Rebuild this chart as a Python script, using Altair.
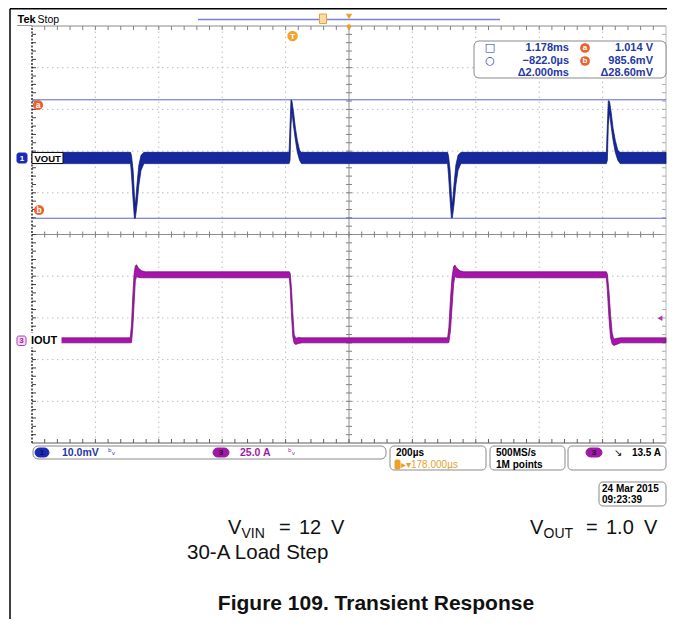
import altair as alt
import pandas as pd

# ---------------- scope settings ----------------
T_LEFT_US = -822.0        # left screen edge (cursor readout -822.0 us)
T_RIGHT_US = 1178.0       # right screen edge (cursor readout 1.178 ms)
T_CENTER_US = 178.0       # horizontal position readout
TIME_DIV_US = 200.0       # 200 us/div
N_HDIV = 10
N_VDIV = 10
VOUT_V_PER_DIV = 0.010    # 10.0 mV/div
VOUT_REF_V = 1.000
VOUT_REF_DIV = 1.83       # screen position of 1.000 V
IOUT_A_PER_DIV = 25.0     # 25.0 A/div
IOUT_ZERO_DIV = -2.55     # screen position of 0 A
CURSOR_A_V = 1.014
CURSOR_B_V = 0.9856
TRIG_LEVEL_A = 13.5

# ---------------- VOUT envelope (time us, upper V, lower V) ----------------
vout_t = [-822, -511, -508, -503, -499, -496, -491, -485, -478, -469,
          -11, -8, -5, -2, 3, 9, 15, 22, 28,
          489, 492, 497, 501, 504, 509, 515, 522, 531,
          990, 993, 996, 1000, 1005, 1011, 1018, 1026, 1033, 1178]
vout_hi = [1.0014, 1.0014, 1.0005, 0.9971, 0.9911, 0.9887, 0.9935, 0.9983, 1.0007, 1.0014,
           1.0014, 1.0079, 1.0140, 1.0137, 1.0111, 1.0072, 1.0043, 1.0019, 1.0014,
           1.0014, 1.0005, 0.9971, 0.9911, 0.9887, 0.9935, 0.9983, 1.0007, 1.0014,
           1.0014, 1.0079, 1.0138, 1.0136, 1.0110, 1.0072, 1.0043, 1.0019, 1.0014, 1.0014]
vout_lo = [0.9987, 0.9987, 0.9959, 0.9899, 0.9856, 0.9856, 0.9887, 0.9935, 0.9971, 0.9987,
           0.9987, 0.9995, 1.0079, 1.0111, 1.0077, 1.0043, 1.0014, 0.9995, 0.9987,
           0.9987, 0.9959, 0.9899, 0.9857, 0.9857, 0.9887, 0.9935, 0.9971, 0.9987,
           0.9987, 0.9995, 1.0079, 1.0110, 1.0076, 1.0043, 1.0014, 0.9995, 0.9987, 0.9987]

# ---------------- IOUT envelope (time us, upper A, lower A) ----------------
iout_t = [-822, -512, -508, -504, -500, -496, -492, -486, -476, -465,
          -10, -7, -3, 1, 5, 10, 18, 30,
          489, 493, 498, 503, 508, 512, 518, 528, 540,
          990, 993, 998, 1003, 1008, 1013, 1022, 1035, 1178]
iout_hi = [1.8, 1.8, 10, 27, 40, 45, 45.6, 43.5, 42, 41.4,
           41.4, 40, 30, 16, 4, 1.5, 2, 1.8,
           1.8, 8, 25, 38, 44.5, 45.5, 43.5, 42, 41.4,
           41.4, 40, 30, 16, 5, 1, 1.5, 1.8, 1.8]
iout_lo = [-1.2, -1.2, -1.0, 8, 22, 36, 38.5, 38, 37.8, 37.8,
           37.8, 30, 14, 2, -1.5, -2.2, -1.6, -1.2,
           -1.2, -1, 6, 20, 34, 38.5, 38, 37.8, 37.8,
           37.8, 30, 14, 2, -1.8, -2.8, -2.2, -1.2, -1.2]

# ---------------- layout ----------------
PLOT_W, PLOT_H = 634, 417
OX, OY = 32, 26          # image position of graticule top-left
UI_FONT = "Liberation Sans"
BLUE_TXT = "#2638a6"
MAG = "#a01ca6"
ORANGE = "#e8622c"

XS = alt.Scale(domain=[T_LEFT_US, T_RIGHT_US], nice=False, zero=False)
YS = alt.Scale(domain=[-N_VDIV / 2, N_VDIV / 2], nice=False, zero=False)
US_PER_PX = (T_RIGHT_US - T_LEFT_US) / PLOT_W
DIV_PER_PX = N_VDIV / PLOT_H


def X(f):
    return alt.X(f, type="quantitative", scale=XS, axis=None)


def Y(f):
    return alt.Y(f, type="quantitative", scale=YS, axis=None)


ONE = pd.DataFrame({"k": [0]})


def px(v):
    return alt.value(v - OX)


def py(v):
    return alt.value(v - OY)


def text_at(s, x, y, size=10, color="#000000", weight="bold", align="left",
            font=UI_FONT, baseline="middle"):
    return alt.Chart(ONE).mark_text(
        text=s, fontSize=size, color=color, fontWeight=weight, align=align,
        baseline=baseline, font=font
    ).encode(x=px(x), y=py(y))


def rect_at(x1, y1, x2, y2, fill="#ffffff", stroke="#8c8c8c", sw=1.0, r=0):
    return alt.Chart(ONE).mark_rect(
        fill=fill, stroke=stroke, strokeWidth=sw, cornerRadius=r
    ).encode(x=px(x1), x2=px(x2), y=py(y1), y2=py(y2))


def line_at(x1, y1, x2, y2, color, sw=1.0, dash=None):
    kw = dict(color=color, strokeWidth=sw)
    if dash:
        kw["strokeDash"] = dash
    return alt.Chart(ONE).mark_rule(**kw).encode(x=px(x1), x2=px(x2), y=py(y1), y2=py(y2))


def dot_at(x, y, color, size=100, shape="circle"):
    return alt.Chart(ONE).mark_point(shape=shape, filled=True, color=color, size=size,
                                     opacity=1).encode(x=px(x), y=py(y))


layers = []

# ---------------- graticule ----------------
maj_t = [T_LEFT_US + k * TIME_DIV_US for k in range(N_HDIV + 1)]
maj_d = [-N_VDIV / 2 + k for k in range(N_VDIV + 1)]
dot_v = pd.DataFrame({"t": [t for t in maj_t[1:-1] if abs(t - T_CENTER_US) > 1e-6]})
dot_v["y1"] = -N_VDIV / 2
dot_v["y2"] = N_VDIV / 2
dot_h = pd.DataFrame({"d": [d for d in maj_d[1:-1] if d != 0]})
dot_h["x1"] = T_LEFT_US
dot_h["x2"] = T_RIGHT_US
layers.append(alt.Chart(dot_v).mark_rule(color="#bcbcbc", strokeWidth=1, strokeDash=[1.5, 3.5])
              .encode(x=X("t"), y=Y("y1"), y2="y2:Q"))
layers.append(alt.Chart(dot_h).mark_rule(color="#bcbcbc", strokeWidth=1, strokeDash=[1.5, 3.5])
              .encode(y=Y("d"), x=X("x1"), x2="x2:Q"))

# centre cross-hair
cross = pd.DataFrame({"x1": [T_LEFT_US, T_CENTER_US], "x2": [T_RIGHT_US, T_CENTER_US],
                      "y1": [0.0, -N_VDIV / 2], "y2": [0.0, N_VDIV / 2]})
layers.append(alt.Chart(cross).mark_rule(color="#8e8e8e", strokeWidth=1)
              .encode(x=X("x1"), x2="x2:Q", y=Y("y1"), y2="y2:Q"))

# minor ticks
sub_t = [T_LEFT_US + j * TIME_DIV_US / 5 for j in range(1, N_HDIV * 5)]
sub_d = [-N_VDIV / 2 + j * 0.2 for j in range(1, N_VDIV * 5)]
th = pd.DataFrame({"t": sub_t})
th_c = th.assign(y1=-3 * DIV_PER_PX, y2=3 * DIV_PER_PX)
th_top = th.assign(y1=N_VDIV / 2, y2=N_VDIV / 2 - 4 * DIV_PER_PX)
th_bot = th.assign(y1=-N_VDIV / 2, y2=-N_VDIV / 2 + 4 * DIV_PER_PX)
tv = pd.DataFrame({"d": sub_d})
tv_c = tv.assign(x1=T_CENTER_US - 3 * US_PER_PX, x2=T_CENTER_US + 3 * US_PER_PX)
tv_l = tv.assign(x1=T_LEFT_US, x2=T_LEFT_US + 4 * US_PER_PX)
tv_r = tv.assign(x1=T_RIGHT_US - 4 * US_PER_PX, x2=T_RIGHT_US)
for df, col in [(th_c, "#808080"), (th_top, "#808080"), (th_bot, "#606060")]:
    layers.append(alt.Chart(df).mark_rule(color=col, strokeWidth=1)
                  .encode(x=X("t"), y=Y("y1"), y2="y2:Q"))
for df, col in [(tv_c, "#808080"), (tv_l, "#404040"), (tv_r, "#a8a8a8")]:
    layers.append(alt.Chart(df).mark_rule(color=col, strokeWidth=1)
                  .encode(y=Y("d"), x=X("x1"), x2="x2:Q"))

# borders
bord_h = pd.DataFrame({"d": [N_VDIV / 2, -N_VDIV / 2], "x1": [T_LEFT_US] * 2, "x2": [T_RIGHT_US] * 2,
                       "c": ["#8a8a8a", "#5a5a5a"]})
layers.append(alt.Chart(bord_h).mark_rule(strokeWidth=1)
              .encode(y=Y("d"), x=X("x1"), x2="x2:Q", color=alt.Color("c:N", scale=None)))
bord_l = pd.DataFrame({"t": [T_LEFT_US], "y1": [-N_VDIV / 2], "y2": [N_VDIV / 2]})
layers.append(alt.Chart(bord_l).mark_rule(color="#111111", strokeWidth=1.3, strokeDash=[2, 1.5])
              .encode(x=X("t"), y=Y("y1"), y2="y2:Q"))
bord_r = pd.DataFrame({"t": [T_RIGHT_US], "y1": [-N_VDIV / 2], "y2": [N_VDIV / 2]})
layers.append(alt.Chart(bord_r).mark_rule(color="#b8b8b8", strokeWidth=1)
              .encode(x=X("t"), y=Y("y1"), y2="y2:Q"))

# ---------------- cursors ----------------
cur_df = pd.DataFrame({"v": [CURSOR_A_V, CURSOR_B_V], "x1": [T_LEFT_US] * 2, "x2": [T_RIGHT_US] * 2})
layers.append(alt.Chart(cur_df).transform_calculate(
    d=f"(datum.v - {VOUT_REF_V}) / {VOUT_V_PER_DIV} + {VOUT_REF_DIV}"
).mark_rule(color="#5a62d2", strokeWidth=1).encode(y=Y("d"), x=X("x1"), x2="x2:Q"))

# ---------------- traces ----------------
iout_df = pd.DataFrame({"t": iout_t, "hi": iout_hi, "lo": iout_lo})
layers.append(alt.Chart(iout_df).transform_calculate(
    hi_d=f"datum.hi / {IOUT_A_PER_DIV} + {IOUT_ZERO_DIV}",
    lo_d=f"datum.lo / {IOUT_A_PER_DIV} + {IOUT_ZERO_DIV}",
).mark_area(color="#a814ac", stroke="#6c0a70", strokeWidth=0.7, opacity=1)
    .encode(x=X("t"), y=Y("hi_d"), y2="lo_d:Q"))

vout_df = pd.DataFrame({"t": vout_t, "hi": vout_hi, "lo": vout_lo})
layers.append(alt.Chart(vout_df).transform_calculate(
    hi_d=f"(datum.hi - {VOUT_REF_V}) / {VOUT_V_PER_DIV} + {VOUT_REF_DIV}",
    lo_d=f"(datum.lo - {VOUT_REF_V}) / {VOUT_V_PER_DIV} + {VOUT_REF_DIV}",
).mark_area(color="#16289e", stroke="#0a166c", strokeWidth=0.7, opacity=1)
    .encode(x=X("t"), y=Y("hi_d"), y2="lo_d:Q"))

# ---------------- on-screen markers ----------------
trig_df = pd.DataFrame({"t": [0.0]})
layers.append(alt.Chart(trig_df).mark_circle(color="#f2a52a", size=110, opacity=1)
              .encode(x=X("t"), y=py(36)))
layers.append(alt.Chart(trig_df).mark_text(text="T", color="white", fontSize=8, fontWeight="bold",
                                           font=UI_FONT).encode(x=X("t"), y=py(36.5)))
lvl_df = pd.DataFrame({"t": [T_RIGHT_US - 6 * US_PER_PX],
                       "d": [TRIG_LEVEL_A / IOUT_A_PER_DIV + IOUT_ZERO_DIV]})
layers.append(alt.Chart(lvl_df).mark_point(shape="triangle-left", filled=True, color="#b030b0",
                                           size=30, opacity=1).encode(x=X("t"), y=Y("d")))

# channel 1 / VOUT label
layers.append(rect_at(17, 153, 27, 163, fill="#1b2bb6", stroke="#1b2bb6", r=2))
layers.append(text_at("1", 22, 158.5, size=8, color="white", align="center"))
layers.append(rect_at(32, 152.5, 63, 163.5, fill="#ffffff", stroke="#111111", sw=1))
layers.append(text_at("VOUT", 34.5, 158.5, size=9.5))
# channel 3 / IOUT label
layers.append(rect_at(17, 336, 26, 345.5, fill="#f4d8f4", stroke="#b040b0", r=2))
layers.append(text_at("3", 21.5, 341, size=8, color=MAG, align="center"))
layers.append(rect_at(29, 333, 61.5, 347.5, fill="#ffffff", stroke="#ffffff", sw=0))
layers.append(text_at("IOUT", 31, 340.5, size=11))

# cursor markers
layers.append(dot_at(38, 105, ORANGE, size=105))
layers.append(text_at("a", 38, 104.5, size=8.5, color="white", align="center"))
layers.append(dot_at(39, 210, ORANGE, size=105))
layers.append(text_at("b", 39, 209.5, size=8.5, color="white", align="center"))

# ---------------- top status line ----------------
layers.append(text_at("Tek", 17.5, 19.5, size=11, weight="bold"))
layers.append(text_at("Stop", 37.5, 19.5, size=10.5, weight="normal"))
layers.append(line_at(17, 25.5, 32, 25.5, "#9a9a9a", sw=1))
layers.append(line_at(198, 19.5, 500, 19.5, "#7a7fd4", sw=1.6))
layers.append(rect_at(319.5, 14, 326.5, 23.5, fill="#f8dca0", stroke="#e6a23c", sw=1))
layers.append(dot_at(349, 16.5, "#f0a030", size=40, shape="triangle-down"))
layers.append(dot_at(349, 26.5, "#f0a030", size=22))

# ---------------- cursor readout ----------------
layers.append(rect_at(474, 41, 666, 78, fill="#ffffff", stroke="#8a8a8a", sw=1, r=5))
layers.append(text_at("□", 490, 48, size=11, color=BLUE_TXT, weight="normal", align="center",
                      font="DejaVu Sans"))
layers.append(text_at("○", 490, 61, size=11, color=BLUE_TXT, weight="normal", align="center",
                      font="DejaVu Sans"))
layers.append(text_at("1.178ms", 569, 48, size=11, color=BLUE_TXT, align="right"))
layers.append(text_at("−822.0µs", 569, 61, size=11, color=BLUE_TXT, align="right"))
layers.append(text_at("Δ2.000ms", 569, 73, size=11, color=BLUE_TXT, align="right"))
layers.append(dot_at(585, 48, ORANGE, size=95))
layers.append(text_at("a", 585, 47.5, size=8, color="white", align="center"))
layers.append(dot_at(585, 61, ORANGE, size=95))
layers.append(text_at("b", 585, 60.5, size=8, color="white", align="center"))
layers.append(text_at("1.014 V", 653, 48, size=11, color=BLUE_TXT, align="right"))
layers.append(text_at("985.6mV", 653, 61, size=11, color=BLUE_TXT, align="right"))
layers.append(text_at("Δ28.60mV", 653, 73, size=11, color=BLUE_TXT, align="right"))

# ---------------- bottom status bar ----------------
layers.append(rect_at(33, 446, 386, 459, fill="#ffffff", stroke="#8a8a8a", sw=1, r=5))
layers.append(rect_at(35, 448, 49, 457, fill="#1b2bb6", stroke="#1b2bb6", r=4.5))
layers.append(text_at("1", 42, 452.8, size=8, color="#0a1050", align="center"))
layers.append(text_at("10.0mV", 62, 452.8, size=10.5, color=BLUE_TXT))
layers.append(text_at("ᵇᵥ", 108, 451.5, size=9, color=BLUE_TXT, weight="normal", font="DejaVu Sans"))
layers.append(rect_at(213, 448, 229, 457, fill="#9e1aa4", stroke="#9e1aa4", r=4.5))
layers.append(text_at("3", 221, 452.8, size=8, color="#3a0040", align="center"))
layers.append(text_at("25.0 A", 240, 452.8, size=10.5, color=MAG))
layers.append(text_at("ᵇᵥ", 288, 451.5, size=9, color=MAG, weight="normal", font="DejaVu Sans"))

layers.append(rect_at(390, 446, 486, 470, fill="#ffffff", stroke="#8a8a8a", sw=1, r=4))
layers.append(text_at("200µs", 396, 452.8, size=10))
layers.append(rect_at(395, 460, 400, 469, fill="#eaa22e", stroke="#eaa22e", r=1))
layers.append(text_at("▸▾178.000µs", 401, 464.8, size=10, color="#e8a12c", weight="normal"))

layers.append(rect_at(490, 446, 565, 470, fill="#ffffff", stroke="#8a8a8a", sw=1, r=4))
layers.append(text_at("500MS/s", 496, 452.8, size=10))
layers.append(text_at("1M points", 496, 464.8, size=10))

layers.append(rect_at(568, 446, 666, 470, fill="#ffffff", stroke="#8a8a8a", sw=1, r=4))
layers.append(rect_at(586, 448, 602, 457, fill="#9e1aa4", stroke="#9e1aa4", r=4.5))
layers.append(text_at("3", 594, 452.8, size=8, color="#3a0040", align="center"))
layers.append(text_at("↘", 614, 452.8, size=10, weight="normal", font="DejaVu Sans"))
layers.append(text_at("13.5 A", 661, 452.8, size=10, align="right"))

layers.append(rect_at(599, 482, 666, 506, fill="#ffffff", stroke="#8a8a8a", sw=1, r=4))
layers.append(text_at("24 Mar 2015", 602, 488.8, size=10))
layers.append(text_at("09:23:39", 602, 500, size=10))

# ---------------- caption ----------------
CAP = "#111111"
layers.append(text_at("V", 228, 528, size=20, color=CAP, weight="normal"))
layers.append(text_at("VIN", 241.5, 534, size=14, color=CAP, weight="normal"))
layers.append(text_at("=", 279, 528, size=20, color=CAP, weight="normal"))
layers.append(text_at("12", 299, 528, size=20, color=CAP, weight="normal"))
layers.append(text_at("V", 331, 528, size=20, color=CAP, weight="normal"))
layers.append(text_at("30-A Load Step", 187, 553, size=20.5, color=CAP, weight="normal"))
layers.append(text_at("V", 530, 528, size=20, color=CAP, weight="normal"))
layers.append(text_at("OUT", 543.5, 534, size=14, color=CAP, weight="normal"))
layers.append(text_at("=", 586, 528, size=20, color=CAP, weight="normal"))
layers.append(text_at("1.0", 606, 528, size=20, color=CAP, weight="normal"))
layers.append(text_at("V", 644, 528, size=20, color=CAP, weight="normal"))
layers.append(text_at("Figure 109. Transient Response", 376, 604, size=21, color=CAP,
                      align="center"))

# ---------------- page frame ----------------
layers.append(line_at(10, 8.8, 10, 619, "#000000", sw=1.5))
layers.append(line_at(10, 8.8, 667, 8.8, "#000000", sw=1.5))

chart = alt.layer(*layers).properties(
    width=PLOT_W,
    height=PLOT_H,
    padding={"left": OX - 8, "top": OY - 8, "right": 1, "bottom": 176},
    autosize=alt.AutoSizeParams(type="none"),
    background="white",
).configure_view(stroke=None)

chart.save("out.html", embed_options={"renderer": "svg", "actions": False})
